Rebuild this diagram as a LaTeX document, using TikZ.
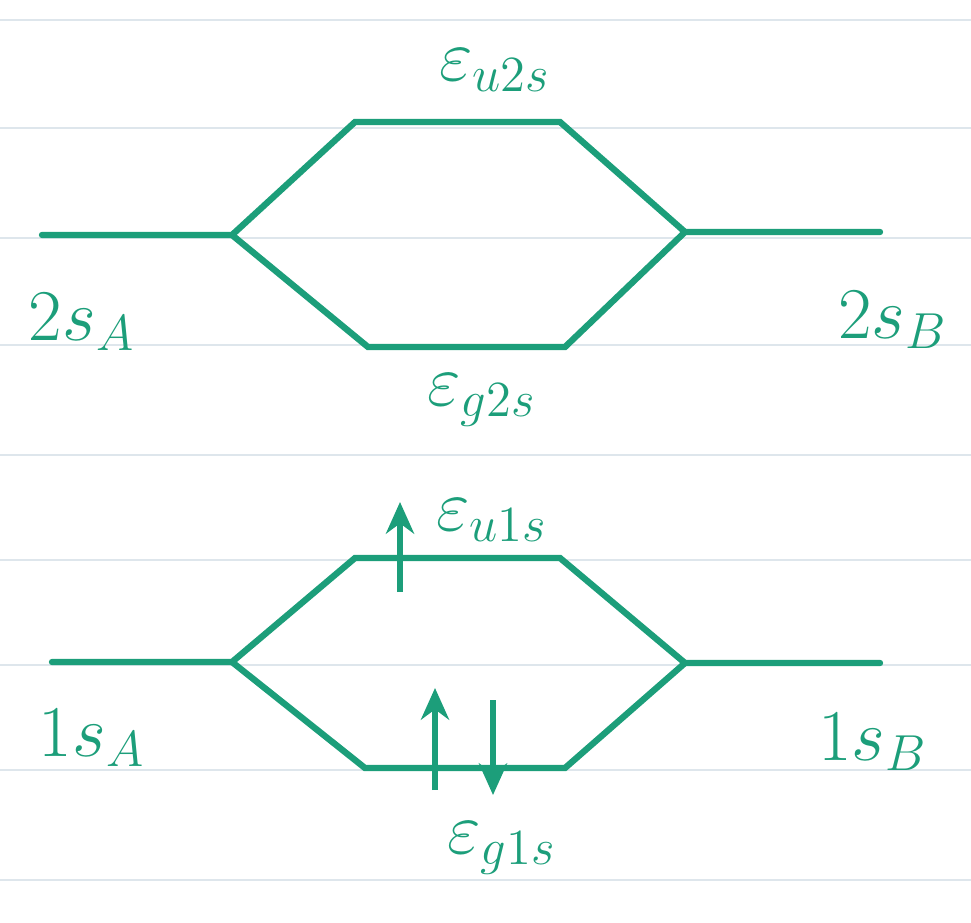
\documentclass[tikz,border=0pt]{standalone}
\usetikzlibrary{arrows.meta}
\definecolor{ink}{RGB}{28,158,122}
\definecolor{rule}{RGB}{222,230,236}
\begin{document}
\begin{tikzpicture}[x=0.01cm, y=-0.01cm,
  every node/.style={text=ink},
  level/.style={ink, line width=1.8pt, line cap=round},
  spin/.style={ink, line width=1.8pt, -{Stealth[length=9pt,width=8pt]}}]
  \useasboundingbox (0,0) rectangle (971,922);

  % ruled paper
  \foreach \y in {20,128,238,345,455,560,665,770,880}
    \draw[rule, line width=0.6pt] (0,\y) -- (971,\y);

  % 2s levels
  \coordinate (a2l) at (42,235);   \coordinate (a2r) at (232,235);
  \coordinate (b2l) at (685,232);  \coordinate (b2r) at (880,232);
  \coordinate (u2l) at (355,122);  \coordinate (u2r) at (560,122);
  \coordinate (g2l) at (368,347);  \coordinate (g2r) at (565,347);

  \draw[level] (a2l) -- (a2r) -- (u2l) -- (u2r) -- (b2l) -- (b2r);
  \draw[level] (a2r) -- (g2l) -- (g2r) -- (b2l);

  \node[font=\huge] (u2s) at (495,70) {$\varepsilon_{u2s}$};
  \node[font=\huge] (g2s) at (482,400) {$\varepsilon_{g2s}$};
  \node[font=\huge] (s2A) at (82,322) {$2s_A$};
  \node[font=\huge] (s2B) at (893,320) {$2s_B$};

  % 1s levels
  \coordinate (a1l) at (52,662);   \coordinate (a1r) at (232,662);
  \coordinate (b1l) at (685,663);  \coordinate (b1r) at (880,663);
  \coordinate (u1l) at (355,558);  \coordinate (u1r) at (560,558);
  \coordinate (g1l) at (365,768);  \coordinate (g1r) at (565,768);

  \draw[level] (a1l) -- (a1r) -- (u1l) -- (u1r) -- (b1l) -- (b1r);
  \draw[level] (a1r) -- (g1l) -- (g1r) -- (b1l);

  \node[font=\huge] (u1s) at (492,520) {$\varepsilon_{u1s}$};
  \node[font=\huge] (g1s) at (502,848) {$\varepsilon_{g1s}$};
  \node[font=\huge] (s1A) at (92,738) {$1s_A$};
  \node[font=\huge] (s1B) at (873,742) {$1s_B$};

  % electrons
  \coordinate (e1t) at (400,502);  \coordinate (e1b) at (400,592);
  \coordinate (e2t) at (435,688);  \coordinate (e2b) at (435,790);
  \coordinate (e3t) at (493,700);  \coordinate (e3b) at (493,795);
  \draw[spin] (e1b) -- (e1t);
  \draw[spin] (e2b) -- (e2t);
  \draw[spin] (e3t) -- (e3b);
\end{tikzpicture}
\end{document}
